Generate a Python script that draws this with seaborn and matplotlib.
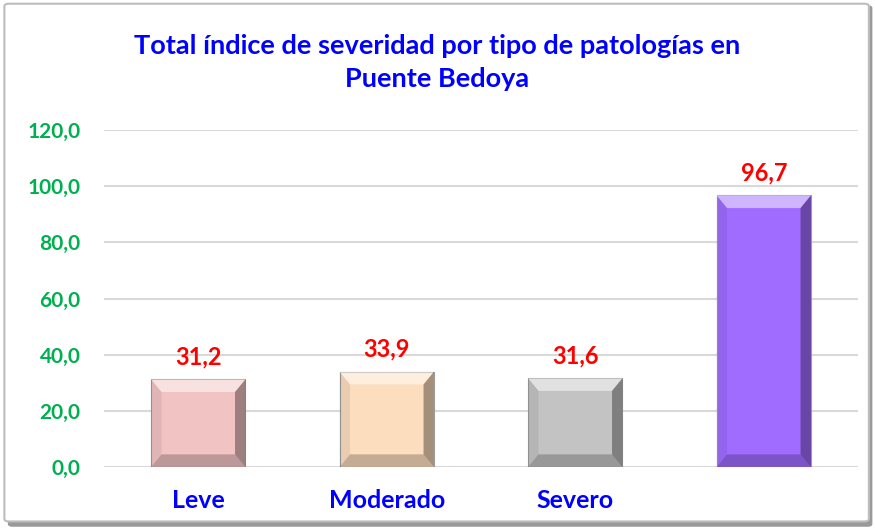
import matplotlib
matplotlib.use("Agg")
import matplotlib.pyplot as plt
import matplotlib.patches as mpatches
import seaborn as sns
import pandas as pd

categories = ["Leve", "Moderado", "Severo", ""]
values = [31.2, 33.9, 31.6, 96.7]
bar_colors = ["#F2C3C3", "#FCDDBE", "#C3C3C3", "#9F6CFF"]
y_ticks = [0, 20, 40, 60, 80, 100, 120]

sns.set_theme(style="white")
plt.rcParams['font.family'] = ['Lato', 'DejaVu Sans']

df = pd.DataFrame({"cat": [str(i) for i in range(len(categories))], "val": values})

fig = plt.figure(figsize=(8.75, 5.31), dpi=100)
ax = fig.add_axes([0.1189, 0.1205, 0.8617, 0.6347])

sns.barplot(data=df, x="cat", y="val", hue="cat", palette=bar_colors,
            width=0.5, saturation=1.0, legend=False, ax=ax,
            edgecolor="#9a9a9a", linewidth=0.8, zorder=3)

# bevel effect on each bar, built from the bar patches
bx, by = 0.055, 4.5
for p in ax.patches:
    x0, y0 = p.get_x(), p.get_y()
    w, h = p.get_width(), p.get_height()
    x1, y1 = x0 + w, y0 + h
    top = [(x0, y1), (x1, y1), (x1 - bx, y1 - by), (x0 + bx, y1 - by)]
    right = [(x1, y1), (x1, y0), (x1 - bx, y0 + by), (x1 - bx, y1 - by)]
    bottom = [(x0, y0), (x1, y0), (x1 - bx, y0 + by), (x0 + bx, y0 + by)]
    left = [(x0, y0), (x0, y1), (x0 + bx, y1 - by), (x0 + bx, y0 + by)]
    for poly, col, a in [(top, "white", 0.5), (right, "black", 0.35),
                         (bottom, "black", 0.22), (left, "black", 0.07)]:
        ax.add_patch(mpatches.Polygon(poly, closed=True, facecolor=col,
                                      alpha=a, edgecolor="none", zorder=4))

for i, v in enumerate(values):
    ax.annotate(f"{v:.1f}".replace(".", ","), xy=(i, v), xytext=(0, 8),
                textcoords="offset points", ha="center", va="bottom",
                color="#FF0000", fontsize=17, fontweight="bold")

ax.set_ylim(0, 120)
ax.set_xlim(-0.5, 3.5)
ax.set_yticks(y_ticks)
ax.set_yticklabels([f"{t:.1f}".replace(".", ",") for t in y_ticks],
                   color="#00B050", fontsize=15, fontweight="bold")
ax.set_xticks(range(len(categories)))
ax.set_xticklabels(categories, color="#0000FF", fontsize=18, fontweight="bold")
ax.tick_params(axis="x", length=0, pad=16)
ax.tick_params(axis="y", length=0, pad=17)
ax.grid(axis="y", color="#D9D9D9", linewidth=1.5, zorder=0)
ax.set_axisbelow(True)
for s in ax.spines.values():
    s.set_visible(False)
ax.set_xlabel("")
ax.set_ylabel("")

fig.text(0.5, 0.882, "Total índice de severidad por tipo de patologías en\nPuente Bedoya",
         ha="center", va="center", color="#0000FF", fontsize=19.5,
         fontweight="bold", linespacing=1.45)

# chart frame with shadow
shadow = mpatches.FancyBboxPatch((0.009, 0.008), 0.988, 0.982,
                                 boxstyle="round,pad=0,rounding_size=0.005",
                                 transform=fig.transFigure, facecolor="#9a9a9a",
                                 edgecolor="none", zorder=-2)
frame = mpatches.FancyBboxPatch((0.005, 0.018), 0.988, 0.975,
                                boxstyle="round,pad=0,rounding_size=0.005",
                                transform=fig.transFigure, facecolor="white",
                                edgecolor="#bdbdbd", linewidth=1.5, zorder=-1)
fig.patches.extend([shadow, frame])

fig.savefig("out.png", dpi=100)
